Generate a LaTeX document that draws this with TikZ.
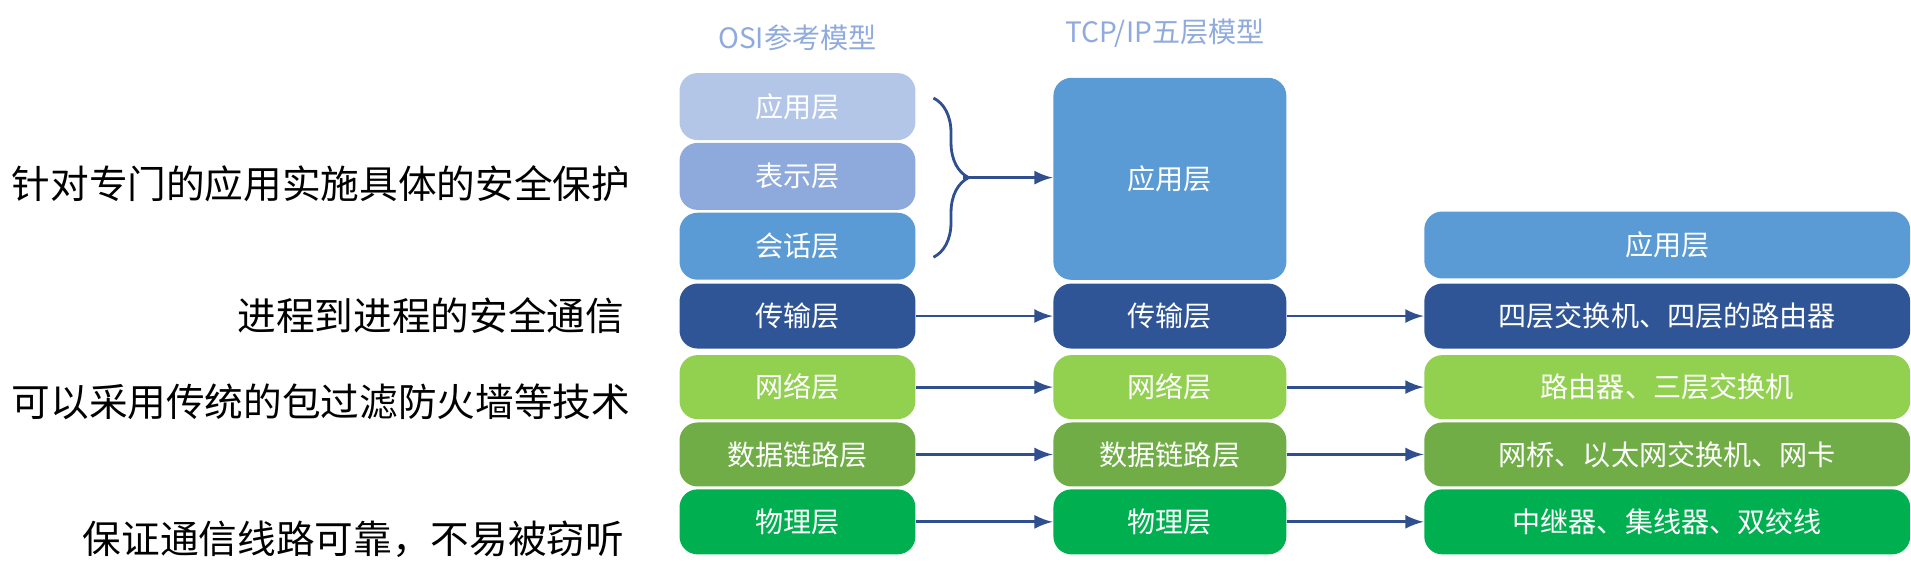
\documentclass[tikz,border=0pt]{standalone}
\usepackage{fontspec}
\newfontfamily\cjk{Noto Sans CJK SC}
\usetikzlibrary{positioning,decorations.pathreplacing}
\definecolor{osiA}{HTML}{B4C6E7}
\definecolor{osiB}{HTML}{8EA9DB}
\definecolor{midblue}{HTML}{5B9BD5}
\definecolor{darkblue}{HTML}{2F5597}
\definecolor{lgreen}{HTML}{92D050}
\definecolor{mgreen}{HTML}{70AD47}
\definecolor{dgreen}{HTML}{00B050}
\definecolor{arrowblue}{HTML}{2F4F8F}
\definecolor{titleblue}{HTML}{8FAADC}
\tikzset{
  layer/.style={rectangle,rounded corners=1.8mm,draw=none,text=white,font=\cjk\fontsize{8}{9}\selectfont,inner sep=0pt},
  note/.style={font=\cjk\fontsize{11}{12}\selectfont,inner sep=0pt},
  flow/.style={->,>=latex,thick,draw=arrowblue}
}
\begin{document}
\begin{tikzpicture}[x=0.01225cm,y=-0.01225cm]
  \useasboundingbox (0,0) rectangle (1560,473);
  % titles
  \node[font=\cjk\fontsize{8}{9}\selectfont,text=titleblue] (osititle) at (651,31) {OSI参考模型};
  \node[font=\cjk\fontsize{8}{9}\selectfont,text=titleblue] (tcptitle) at (951,27) {TCP/IP五层模型};
  % OSI column
  \node[layer,fill=osiA,minimum width=2.36cm,minimum height=0.67cm] (oapp) at (651,87) {应用层};
  \node[layer,fill=osiB,minimum width=2.36cm,minimum height=0.67cm] (opre) at (651,144) {表示层};
  \node[layer,fill=midblue,minimum width=2.36cm,minimum height=0.67cm] (oses) at (651,201) {会话层};
  \node[layer,fill=darkblue,minimum width=2.36cm,minimum height=0.65cm] (otra) at (651,258) {传输层};
  \node[layer,fill=lgreen,minimum width=2.36cm,minimum height=0.64cm] (onet) at (651,316) {网络层};
  \node[layer,fill=mgreen,minimum width=2.36cm,minimum height=0.64cm] (odat) at (651,371) {数据链路层};
  \node[layer,fill=dgreen,minimum width=2.36cm,minimum height=0.65cm] (ophy) at (651,426) {物理层};
  % TCP/IP column
  \node[layer,fill=midblue,minimum width=2.33cm,minimum height=2.02cm] (tapp) at (955,146) {应用层};
  \node[layer,fill=darkblue,minimum width=2.33cm,minimum height=0.65cm] (ttra) at (955,258) {传输层};
  \node[layer,fill=lgreen,minimum width=2.33cm,minimum height=0.64cm] (tnet) at (955,316) {网络层};
  \node[layer,fill=mgreen,minimum width=2.33cm,minimum height=0.64cm] (tdat) at (955,371) {数据链路层};
  \node[layer,fill=dgreen,minimum width=2.33cm,minimum height=0.65cm] (tphy) at (955,426) {物理层};
  % devices column
  \node[layer,fill=midblue,minimum width=4.86cm,minimum height=0.67cm] (dapp) at (1361,200) {应用层};
  \node[layer,fill=darkblue,minimum width=4.86cm,minimum height=0.65cm] (dtra) at (1361,258) {四层交换机、四层的路由器};
  \node[layer,fill=lgreen,minimum width=4.86cm,minimum height=0.64cm] (dnet) at (1361,316) {路由器、三层交换机};
  \node[layer,fill=mgreen,minimum width=4.86cm,minimum height=0.64cm] (ddat) at (1361,371) {网桥、以太网交换机、网卡};
  \node[layer,fill=dgreen,minimum width=4.86cm,minimum height=0.65cm] (dphy) at (1361,426) {中继器、集线器、双绞线};
  % brace and arrows
  \draw[arrowblue,thick,decorate,decoration={brace,amplitude=10pt}] (762,80) -- coordinate[xshift=3mm] (bracetip) (762,210);
  \draw[flow] (bracetip) -- (tapp.west |- bracetip);
  \foreach \o/\t/\d in {otra/ttra/dtra,onet/tnet/dnet,odat/tdat/ddat,ophy/tphy/dphy}{
    \draw[flow] (\o.east) -- (\t.west);
    \draw[flow] (\t.east) -- (\d.west);
  }
  % notes
  \node[note,anchor=east] (n1) at (515,150) {针对专门的应用实施具体的安全保护};
  \node[note,anchor=east] (n2) at (510,258) {进程到进程的安全通信};
  \node[note,anchor=east] (n3) at (515,328) {可以采用传统的包过滤防火墙等技术};
  \node[note,anchor=east] (n4) at (510,440) {保证通信线路可靠，不易被窃听};
\end{tikzpicture}
\end{document}
